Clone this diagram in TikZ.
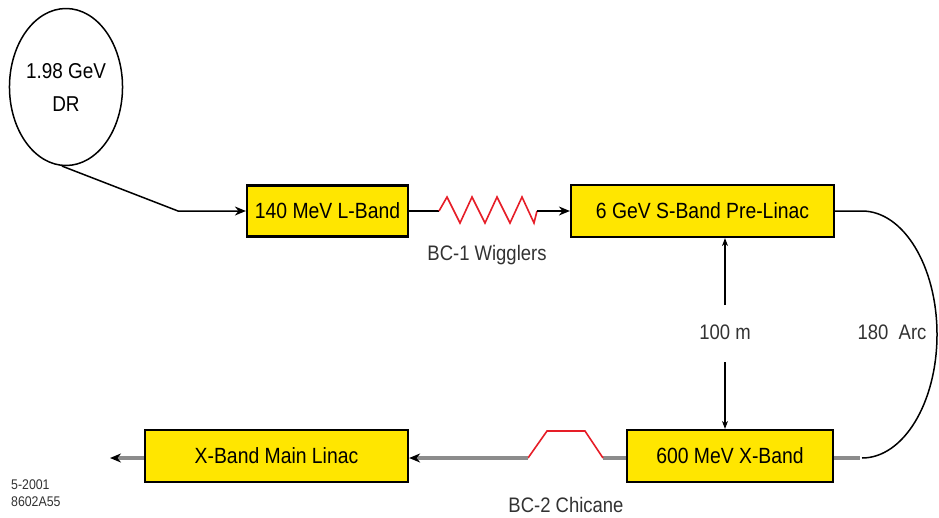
\documentclass[tikz,border=0pt]{standalone}
\usepackage{fontspec}
\setmainfont[FakeStretch=0.88]{Liberation Sans}
\usetikzlibrary{arrows.meta,shapes.geometric}
\definecolor{boxyellow}{RGB}{255,230,0}
\definecolor{beamgray}{RGB}{140,140,140}
\definecolor{wigred}{RGB}{230,30,40}
\definecolor{lblgray}{RGB}{50,50,50}
\begin{document}
\begin{tikzpicture}[x=1pt,y=-1pt,
  box/.style={draw=black,line width=2.2pt,fill=boxyellow,inner sep=0pt,font=\fontsize{22}{24}\selectfont},
  lbl/.style={font=\fontsize{21}{23}\selectfont,text=lblgray,inner sep=0pt},
  thinline/.style={line width=1.5pt,draw=black},
  beam/.style={line width=4.5pt,draw=beamgray},
  redline/.style={line width=1.6pt,draw=wigred,line join=miter},
  tip/.style={-{Stealth[length=11pt,width=9pt,color=black]}},
  smalltip/.style={-{Stealth[length=8pt,width=6pt]}},
]
\useasboundingbox (0,0) rectangle (939,517);

% ring
\node[draw=black,line width=1.5pt,ellipse,minimum width=112pt,minimum height=157pt,inner sep=0pt,
      align=center,font=\fontsize{21.5}{33}\selectfont] (dr) at (66,87) {1.98 GeV\\DR};

% boxes
\node[box,minimum width=161pt,minimum height=51pt] (lband) at (327.5,211) {140 MeV L-Band};
\node[box,minimum width=263pt,minimum height=52pt] (sband) at (702.5,211) {6 GeV S-Band Pre-Linac};
\node[box,minimum width=206pt,minimum height=52pt] (xband) at (730,456) {600 MeV X-Band};
\node[box,minimum width=263pt,minimum height=52pt] (main) at (276.5,456) {X-Band Main Linac};

% labels
\node[lbl] (bc1) at (487,255) {BC-1 Wigglers};
\node[lbl] (hm) at (725,332) {100 m};
\node[lbl] (arc) at (892,332) {180\ \ Arc};
\node[lbl] (bc2) at (566,505) {BC-2 Chicane};
\node[font=\fontsize{14}{17}\selectfont,text=lblgray,align=left,anchor=north west,inner sep=0pt] (id) at (11,480) {5-2001\\8602A55};

% coordinates
\coordinate (bend) at (178,211);
\coordinate (w1) at (439,211);
\coordinate (w2) at (537,211);
\coordinate (m1) at (725,305);
\coordinate (m2) at (725,362);
\coordinate (atop) at (862,211);
\coordinate (abot) at (860,458);
\coordinate (c1) at (603,458);
\coordinate (c2) at (528,458);
\coordinate (out) at (110,458);

% DR to L-band
\draw[thinline,tip] (dr.-93) -- (bend) -- (lband.west);

% L-band to wigglers
\draw[thinline] (lband.east) -- (w1);
\draw[redline] (w1) -- ++(8,-14) -- ++(13,26) -- ++(12,-26) -- ++(13,26) -- ++(12,-26) -- ++(13,26) -- ++(12,-26) -- ++(12,26) -- (w2);
\draw[thinline,tip] (w2) -- (sband.west);

% 100 m
\draw[line width=1.2pt,smalltip] (m1) -- (m1 |- sband.south);
\draw[line width=1.2pt,smalltip] (m2) -- (m2 |- xband.north);

% arc
\draw[thinline] (sband.east) -- (atop) arc[start angle=90,end angle=-90,x radius=75pt,y radius=123.5pt];
\draw[beam] (xband.east |- abot) -- (abot);

% bottom beam
\draw[beam] (xband.west |- c1) -- (c1);
\draw[redline] (c1) -- ++(-18,-27) -- ++(-38,0) -- (c2);
\draw[beam,tip] (c2) -- (main.east |- c2);
\draw[beam,tip] (main.west |- out) -- (out);
\end{tikzpicture}
\end{document}
